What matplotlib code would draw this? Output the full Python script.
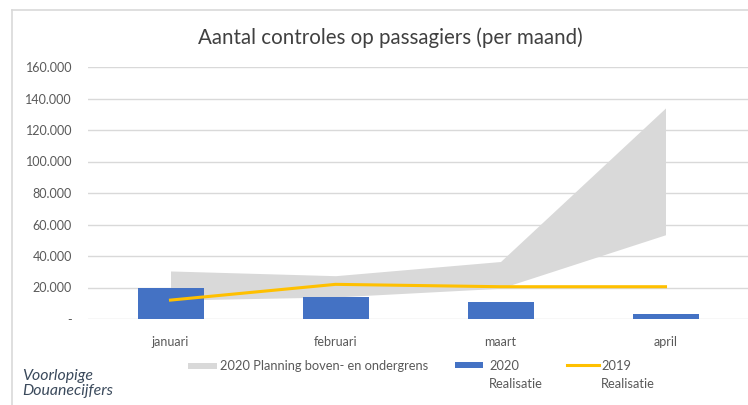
import matplotlib
matplotlib.use('Agg')
from matplotlib import pyplot as plt
from matplotlib.patches import Rectangle
from matplotlib.lines import Line2D
import numpy as np

# Chart data #
MONTHS = ['januari', 'februari', 'maart', 'april']
REALISATIE_2020 = [19800, 14000, 10500, 3200]
REALISATIE_2019 = [12000, 22000, 20500, 20500]
PLANNING_ONDER = [12000, 14000, 19500, 53500]
PLANNING_BOVEN = [30500, 27500, 36500, 134000]
Y_TICKS = [0, 20000, 40000, 60000, 80000, 100000, 120000, 140000, 160000]
Y_TICK_LABELS = ['-', '20.000', '40.000', '60.000', '80.000',
                 '100.000', '120.000', '140.000', '160.000']

GREY = '#d9d9d9'
BLUE = '#4472c4'
GOLD = '#ffc000'
TEXT = '#595959'

W, H = 748, 405

plt.rcParams['font.family'] = ['Lato', 'DejaVu Sans']


def px(x, y):
    # pixel position (from top-left) to figure fraction #
    return x / W, 1 - y / H


def plot_chart():
    fig = plt.figure(figsize=(W / 100, H / 100), dpi=100)

    # Chart border (left + top only visible in screenshot) #
    fig.lines.append(Line2D([12 / W, 12 / W], [0, 1 - 10 / H], transform=fig.transFigure,
                            color=GREY, lw=1.2))
    fig.lines.append(Line2D([12 / W, 1], [1 - 10 / H, 1 - 10 / H], transform=fig.transFigure,
                            color=GREY, lw=1.2))

    ax = fig.add_axes([88 / W, 86 / H, 1 - 88 / W, 252 / H])
    x = np.arange(len(MONTHS))

    ax.fill_between(x, PLANNING_ONDER, PLANNING_BOVEN, color=GREY, lw=0, zorder=1)
    ax.bar(x, REALISATIE_2020, width=0.4, color=BLUE, zorder=2)
    ax.plot(x, REALISATIE_2019, color=GOLD, lw=2.2, zorder=3)

    ax.set_xlim(-0.5, len(MONTHS) - 0.5)
    ax.set_ylim(0, 160000)
    ax.set_yticks(Y_TICKS, Y_TICK_LABELS)
    ax.set_xticks(x, MONTHS)
    ax.grid(axis='y', color=GREY, lw=1)
    ax.set_axisbelow(True)
    for s in ax.spines.values():
        s.set_visible(False)
    ax.tick_params(axis='y', length=0, pad=11.5, labelsize=9, labelcolor=TEXT)
    ax.tick_params(axis='x', length=0, pad=12, labelsize=9, labelcolor=TEXT)

    # Title #
    tx, ty = px(390, 38)
    fig.text(tx, ty, 'Aantal controles op passagiers (per maand)', ha='center', va='center',
             fontsize=14.8, color='#404040')

    # Legend, drawn by hand to get the two-line labels like Excel #
    x0, y0 = px(188, 369)
    fig.patches.append(Rectangle((x0, y0), 29 / W, 6 / H, transform=fig.transFigure,
                                 color=GREY, lw=0))
    fig.text(*px(220, 366), '2020 Planning boven- en ondergrens', ha='left', va='center',
             fontsize=9.3, color=TEXT)

    x0, y0 = px(455, 368)
    fig.patches.append(Rectangle((x0, y0), 28 / W, 6 / H, transform=fig.transFigure,
                                 color=BLUE, lw=0))
    fig.text(*px(489, 360), '2020\nRealisatie', ha='left', va='top',
             fontsize=9.3, color=TEXT, linespacing=1.55)

    lx0, ly = px(567, 365)
    lx1, _ = px(599, 365)
    fig.lines.append(Line2D([lx0, lx1], [ly, ly], transform=fig.transFigure,
                            color=GOLD, lw=2.2))
    fig.text(*px(601, 360), '2019\nRealisatie', ha='left', va='top',
             fontsize=9.3, color=TEXT, linespacing=1.55)

    # Source note #
    fig.text(*px(22, 369), 'Voorlopige\nDouanecijfers', ha='left', va='top',
             fontsize=11.4, style='italic', color='#3b4a5c', linespacing=1.12)

    fig.savefig('out.png', dpi=100)


if __name__ == '__main__':
    plot_chart()
